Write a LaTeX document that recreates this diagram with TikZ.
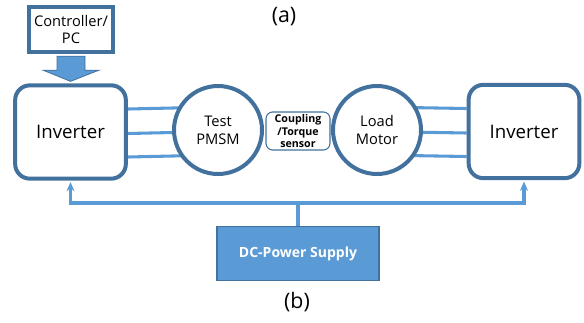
\documentclass[tikz,border=0pt]{standalone}
\usepackage{fontspec}
\setmainfont{Open Sans}
\definecolor{EdgeBlue}{RGB}{65, 113, 156}
\definecolor{LineBlue}{RGB}{91, 155, 213}
\usetikzlibrary{arrows.meta, positioning, calc, backgrounds}

\begin{document}
\begin{tikzpicture}[
        x=0.75pt, y=-0.75pt,
        ctrlbox/.style={rectangle, draw=EdgeBlue, line width=3pt, fill=white, minimum width=63pt, minimum height=34pt, inner sep=0pt, align=center, font=\fontsize{11}{13}\selectfont},
        inverter/.style={rectangle, draw=EdgeBlue, line width=3pt, fill=white, rounded corners=11pt, minimum width=83pt, minimum height=70pt, inner sep=0pt, font=\fontsize{14}{16}\selectfont},
        machine/.style={circle, draw=EdgeBlue, line width=3pt, fill=white, minimum size=66pt, inner sep=0pt, align=center, font=\fontsize{11}{13.5}\selectfont},
        coupler/.style={rectangle, draw=EdgeBlue, line width=0.8pt, fill=white, rounded corners=5pt, minimum width=48pt, minimum height=28.5pt, inner sep=0pt, align=center, font=\bfseries\fontsize{8}{9.6}\selectfont},
        supply/.style={rectangle, draw=EdgeBlue, line width=0.8pt, fill=LineBlue, minimum width=121.5pt, minimum height=40pt, inner sep=0pt, text=white, font=\bfseries\fontsize{10.5}{12}\selectfont},
        phase/.style={draw=LineBlue, line width=2.3pt},
        bus/.style={draw=LineBlue, line width=2.3pt},
        caption/.style={font=\fontsize{16}{18}\selectfont}
    ]
        \useasboundingbox (0,0) rectangle (584,322);

        \node [caption] (capa) at (284,17) {(a)};
        \node [ctrlbox] (ctrl) at (71,29.5) {Controller/\\PC};
        \node [inverter] (invL) at (70.5,132) {Inverter};
        \node [inverter] (invR) at (524,131.5) {Inverter};
        \node [machine] (pmsm) at (218,130) {Test\\PMSM};
        \node [machine] (load) at (377,130) {Load\\Motor};
        \node [coupler] (coup) at (298,131) {Coupling\\/Torque\\sensor};
        \node [supply] (psu) at (298,253.5) {DC-Power Supply};
        \node [caption] (capb) at (297,302) {(b)};
        \coordinate (bus) at (298,203);

        % three-phase lines
        \begin{scope}[on background layer]
            \foreach \dy in {-23,1.5,25} {
                \path [phase] ($(invL.east)+(0,\dy)$) -- ($(pmsm.center)+(0,\dy)$);
                \path [phase] ($(invR.west)+(0,\dy)$) -- ($(load.center)+(0,\dy)$);
            }
        \end{scope}

        % controller -> inverter
        \filldraw [fill=LineBlue, draw=EdgeBlue, line width=0.6pt]
            ($(ctrl.south)+(-14,2)$) -- ($(ctrl.south)+(-14,16)$) -- ($(ctrl.south)+(-28,16)$)
            -- ($(invL.north)+(0,-2)$)
            -- ($(ctrl.south)+(28,16)$) -- ($(ctrl.south)+(14,16)$) -- ($(ctrl.south)+(14,2)$) -- cycle;

        % DC bus
        \path [bus] (psu.north) -- (bus);
        \path [bus, -{Stealth[length=7pt, width=6pt]}, shorten >=1pt] (bus) -| (invL.south);
        \path [bus, -{Stealth[length=7pt, width=6pt]}, shorten >=1pt] (bus) -| (invR.south);
    \end{tikzpicture}
\end{document}
